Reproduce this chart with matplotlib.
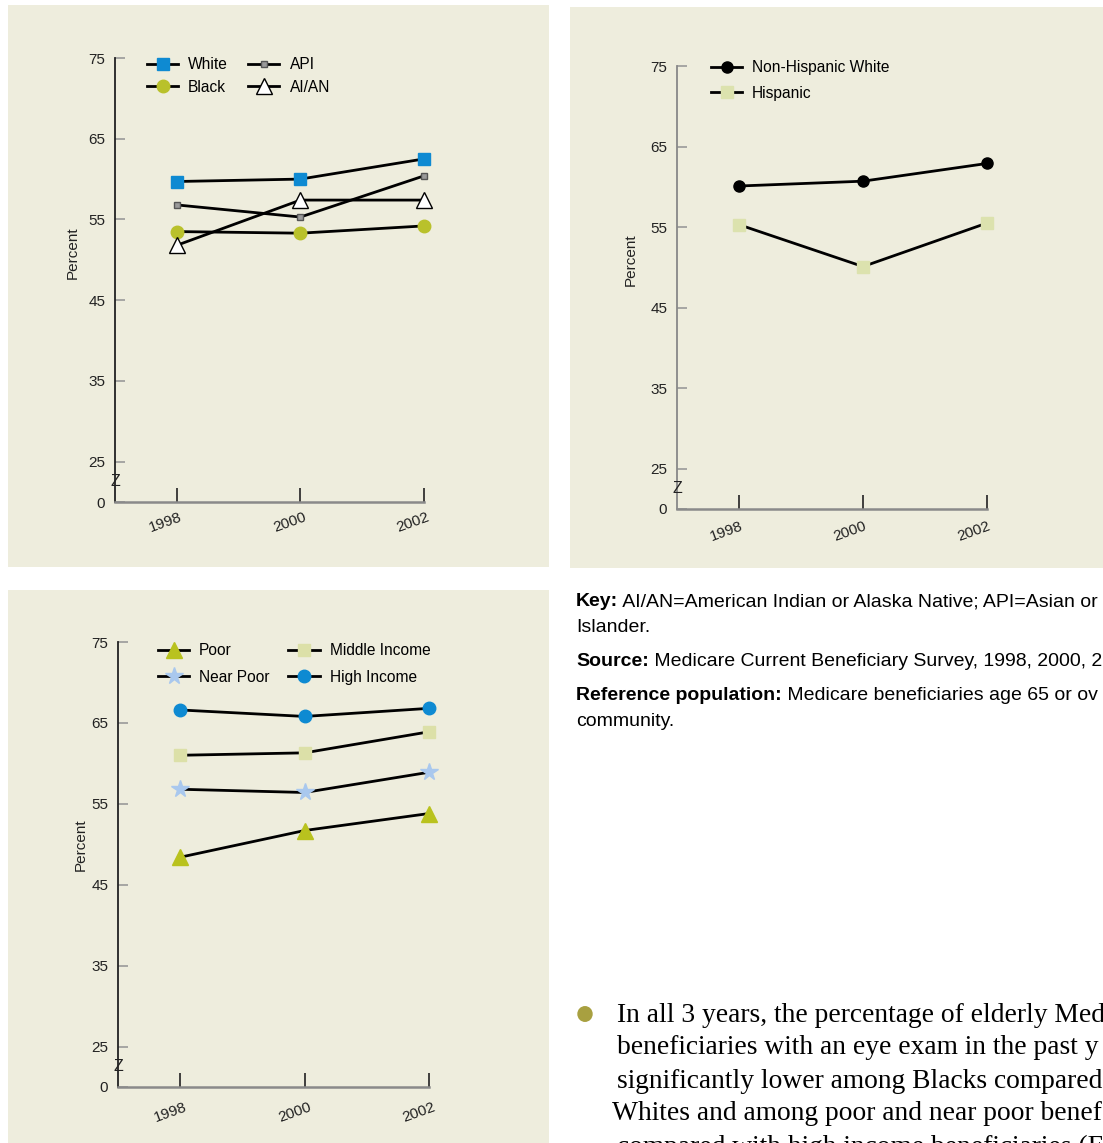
import matplotlib.pyplot as plt
from matplotlib.transforms import ScaledTranslation

# Data
years = [1998, 2000, 2002]

race_white = [59.7, 60.0, 62.5]
race_black = [53.5, 53.3, 54.2]
race_api = [56.8, 55.3, 60.4]
race_aian = [51.8, 57.4, 57.4]

eth_nhwhite = [60.1, 60.7, 62.9]
eth_hispanic = [55.3, 50.1, 55.5]

inc_poor = [48.4, 51.7, 53.8]
inc_nearpoor = [56.8, 56.4, 58.9]
inc_middle = [61.0, 61.3, 63.9]
inc_high = [66.6, 65.8, 66.8]

ytick_vals = [20, 25, 35, 45, 55, 65, 75]
ytick_labels = ['0', '25', '35', '45', '55', '65', '75']

W, H = 1103, 1143
BG = '#EEEDDD'
plt.rcParams['font.family'] = ['Liberation Sans', 'DejaVu Sans']

fig = plt.figure(figsize=(W / 100, H / 100), dpi=100)
fig.patch.set_facecolor('white')


def px_axes(l, t, r, b):
    return fig.add_axes([l / W, 1 - b / H, (r - l) / W, (b - t) / H])


def panel_bg(l, t, r, b):
    a = px_axes(l, t, r, b)
    a.set_facecolor(BG)
    a.set_xticks([])
    a.set_yticks([])
    for s in a.spines.values():
        s.set_visible(False)
    a.set_zorder(0)


def setup_axes(ax, spine_color, lab_dx, lab_dy):
    ax.patch.set_visible(False)
    ax.set_zorder(1)
    ax.set_xlim(1997, 2002)
    ax.set_ylim(20, 75)
    ax.spines['top'].set_visible(False)
    ax.spines['right'].set_visible(False)
    ax.spines['left'].set_color(spine_color)
    ax.spines['left'].set_linewidth(1.3)
    ax.spines['bottom'].set_color('#8a8a8a')
    ax.spines['bottom'].set_linewidth(1.8)
    ax.set_yticks(ytick_vals)
    ax.set_yticklabels(ytick_labels)
    ax.tick_params(axis='y', direction='in', length=7, width=1.2,
                   color='#999999', pad=7, labelsize=11, labelcolor='#222222')
    ax.set_xticks(years)
    ax.set_xticklabels([])
    ax.tick_params(axis='x', direction='in', length=10, width=1.2, color='#222222')
    off = ScaledTranslation(lab_dx / 100, -lab_dy / 100, fig.dpi_scale_trans)
    for yr in years:
        ax.text(yr, 0, str(yr), transform=ax.get_xaxis_transform() + off,
                rotation=20, ha='center', va='center', fontsize=11, color='#222222')
    ax.text(1997, 22.5, 'Z', ha='center', va='center', fontsize=11.5, color='#222222')


LW = 2.0
LEG = dict(frameon=False, fontsize=11.2, handlelength=2.0, handletextpad=0.65,
           borderpad=0, borderaxespad=0, bbox_transform=fig.transFigure,
           loc='upper left')

# ---- Panel 1: race ----
panel_bg(8, 5, 549, 567)
ax1 = px_axes(115, 58, 424, 502)
setup_axes(ax1, '#222222', -11, 20)
ax1.plot(years, race_white, color='black', lw=LW, marker='s', ms=8,
         mfc='#0E8AD2', mec='#0E8AD2', label='White', clip_on=False)
ax1.plot(years, race_black, color='black', lw=LW, marker='o', ms=9,
         mfc='#B9C12B', mec='#B9C12B', label='Black', clip_on=False)
ax1.plot(years, race_api, color='black', lw=LW, marker='s', ms=5,
         mfc='#9a9a9a', mec='#555555', label='API', clip_on=False)
ax1.plot(years, race_aian, color='black', lw=LW, marker='^', ms=12,
         mfc='white', mec='black', mew=1.0, label='AI/AN', clip_on=False)
ax1.legend(ncol=2, bbox_to_anchor=(147 / W, 1 - 57 / H), columnspacing=1.3,
           labelspacing=0.5, **LEG)
fig.text(73 / W, 1 - 253 / H, 'Percent', rotation=90, ha='center', va='center',
         fontsize=11, color='#222222')

# ---- Panel 2: ethnicity ----
panel_bg(570, 7, 1103, 568)
ax2 = px_axes(677, 66, 987, 509)
setup_axes(ax2, '#888888', -13, 22)
ax2.plot(years, eth_nhwhite, color='black', lw=LW, marker='o', ms=8,
         mfc='black', mec='black', label='Non-Hispanic White', clip_on=False)
ax2.plot(years, eth_hispanic, color='black', lw=LW, marker='s', ms=8,
         mfc='#DCE2AE', mec='#DCE2AE', label='Hispanic', clip_on=False)
ax2.legend(bbox_to_anchor=(711 / W, 1 - 60 / H), labelspacing=0.7, **LEG)
fig.text(631 / W, 1 - 260 / H, 'Percent', rotation=90, ha='center', va='center',
         fontsize=11, color='#222222')

# ---- Panel 3: income ----
panel_bg(8, 590, 549, 1143)
ax3 = px_axes(118, 642, 429, 1087)
setup_axes(ax3, '#222222', -10, 25)
ax3.plot(years, inc_poor, color='black', lw=LW, marker='^', ms=11,
         mfc='#B9C21E', mec='#B9C21E', label='Poor', clip_on=False)
ax3.plot(years, inc_nearpoor, color='black', lw=LW, marker='*', ms=13,
         mfc='#A9C8EE', mec='#A9C8EE', label='Near Poor', clip_on=False)
ax3.plot(years, inc_middle, color='black', lw=LW, marker='s', ms=9,
         mfc='#DCE0A8', mec='#DCE0A8', label='Middle Income', clip_on=False)
ax3.plot(years, inc_high, color='black', lw=LW, marker='o', ms=9,
         mfc='#0E8AD2', mec='#0E8AD2', label='High Income', clip_on=False)
ax3.legend(ncol=2, bbox_to_anchor=(158 / W, 1 - 643 / H), columnspacing=1.2,
           labelspacing=0.75, **LEG)
fig.text(81 / W, 1 - 845 / H, 'Percent', rotation=90, ha='center', va='center',
         fontsize=11, color='#222222')

# ---- Notes on the right (cut at the page edge as in the reference) ----
notes = [
    ('Key:', ' AI/AN=American Indian or Alaska Native; API=Asian or', 602),
    ('', 'Islander.', 627),
    ('Source:', ' Medicare Current Beneficiary Survey, 1998, 2000, 2', 662),
    ('Reference population:', ' Medicare beneficiaries age 65 or ov', 696),
    ('', 'community.', 722),
]
NFS = 14.0
for bold, rest, ypx in notes:
    if bold:
        t = fig.text(576 / W, 1 - ypx / H, bold, fontweight='bold', fontsize=NFS,
                     va='center', ha='left', color='black')
        fig.add_artist(plt.Annotation(rest, xy=(1, 0.5), xycoords=t, va='center',
                                      ha='left', fontsize=NFS, color='black'))
    else:
        fig.text(576 / W, 1 - ypx / H, rest, fontsize=NFS, va='center',
                 ha='left', color='black')

bullet_lines = [
    ('In all 3 years, the percentage of elderly Med', 617, 1015),
    ('beneficiaries with an eye exam in the past y', 617, 1048),
    ('significantly lower among Blacks compared', 617, 1081),
    ('Whites and among poor and near poor benef', 612, 1114),
    ('compared with high income beneficiaries (F', 617, 1147),
]
for txt, xpx, ypx in bullet_lines:
    fig.text(xpx / W, 1 - ypx / H, txt, fontsize=19.8, va='center', ha='left',
             family='Liberation Serif', color='black')
fig.add_artist(plt.Circle((585 / W, 1 - 1014 / H), 7 / W, color='#A8A040',
                          transform=fig.transFigure))

fig.savefig('out.png', dpi=100, facecolor='white')
